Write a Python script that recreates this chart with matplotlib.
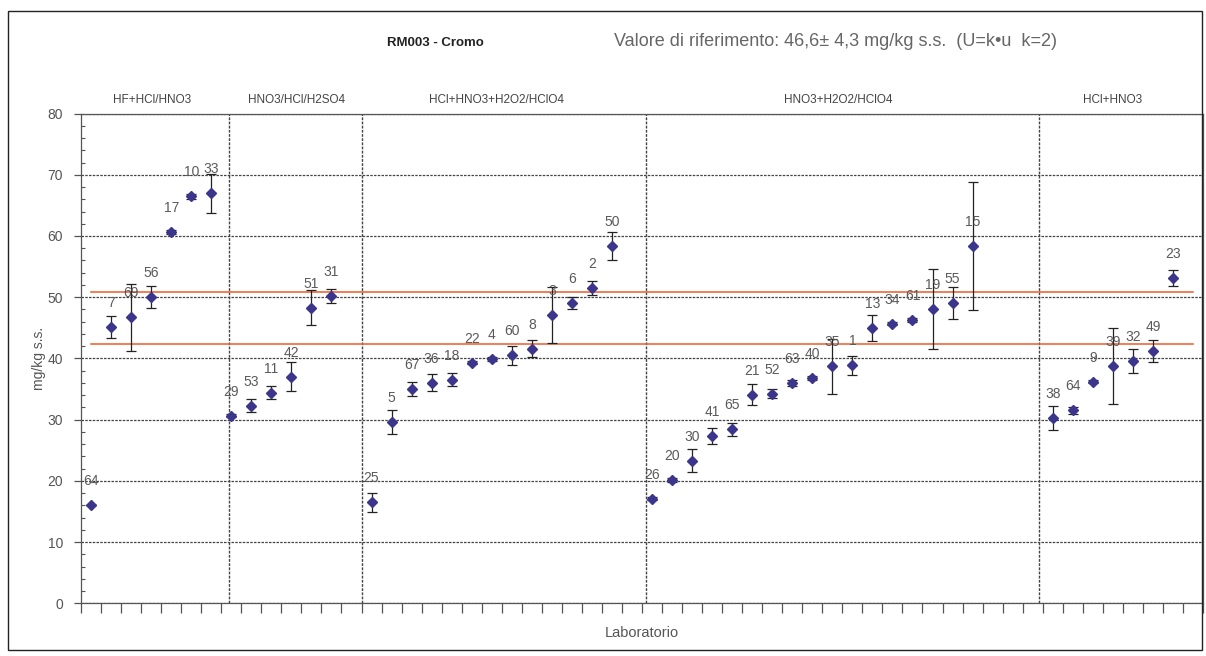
import matplotlib
matplotlib.use("Agg")
import matplotlib.pyplot as plt
from matplotlib.patches import Rectangle
from matplotlib.ticker import MultipleLocator

plt.rcParams['font.family'] = ['Liberation Sans', 'DejaVu Sans']

# laboratori, in ordine sull'asse x (uno per posizione, None = posizione vuota)
lab = ['64', '7', '69', '56', '17', '10', '33',
       '29', '53', '11', '42', '51', '31', None,
       '25', '5', '67', '36', '18', '22', '4', '60', '8', '3', '6', '2', '50', None,
       '26', '20', '30', '41', '65', '21', '52', '63', '40', '35', '1', '13', '34', '61',
       '19', '55', '15', None, None, None,
       '38', '64', '9', '39', '32', '49', '23']

valori = [16.0, 45.1, 46.7, 50.1, 60.65, 66.5, 67.0,
          30.65, 32.3, 34.4, 37.0, 48.3, 50.2, None,
          16.5, 29.6, 35.0, 36.0, 36.55, 39.3, 39.9, 40.5, 41.6, 47.1, 49.1, 51.55, 58.3, None,
          17.1, 20.1, 23.3, 27.4, 28.4, 34.1, 34.25, 36.0, 36.8, 38.7, 38.85, 45.0, 45.7, 46.25,
          48.1, 49.0, 58.4, None, None, None,
          30.3, 31.5, 36.2, 38.7, 39.55, 41.2, 53.2]

incertezze = [0.0, 1.8, 5.5, 1.8, 0.3, 0.4, 3.2,
              0.2, 1.0, 1.1, 2.4, 2.8, 1.2, None,
              1.6, 2.0, 1.2, 1.4, 1.1, 0.2, 0.3, 1.6, 1.4, 4.6, 1.0, 1.15, 2.3, None,
              0.3, 0.3, 1.9, 1.3, 1.0, 1.75, 0.7, 0.5, 0.3, 4.5, 1.5, 2.1, 0.3, 0.3,
              6.5, 2.6, 10.5, None, None, None,
              2.0, 0.5, 0.2, 6.2, 2.0, 1.85, 1.3]

gruppi = ['HF+HCl/HNO3', 'HNO3/HCl/H2SO4', 'HCl+HNO3+H2O2/HClO4',
          'HNO3+H2O2/HClO4', 'HCl+HNO3']
separatori = [6.9, 13.5, 27.7, 47.3]
centri_gruppi = [3.05, 10.25, 20.25, 37.3, 51.0]

valore_rif = 46.6
U = 4.3

fig = plt.figure(figsize=(12.06, 6.56), dpi=100)
ax = fig.add_axes([0.0672, 0.0803, 0.9303, 0.7466])

xs = [i for i, v in enumerate(valori) if v is not None]
ys = [valori[i] for i in xs]
es = [incertezze[i] for i in xs]

ax.errorbar(xs, ys, yerr=es, fmt='D', ms=5.5, color='#3b358c', mec='#3b358c',
            ecolor='#222222', elinewidth=0.9, capsize=3.5, capthick=0.9, zorder=4)

for i in xs:
    ax.annotate(lab[i], (i, valori[i]), xytext=(0, 24), textcoords='offset pixels',
                ha='center', va='center', fontsize=10, color='#5a5a5a', zorder=5)

# limiti del valore di riferimento
ax.plot([0, 55], [valore_rif + U] * 2, color='#ee5a2a', lw=1.1, zorder=3)
ax.plot([0, 55], [valore_rif - U] * 2, color='#ee5a2a', lw=1.1, zorder=3)

for s in separatori:
    ax.axvline(s, color='#444444', lw=1.0, ls=(0, (2, 1)), zorder=2)

ax.set_xlim(-0.5, 55.5)
ax.set_ylim(0, 80)
ax.yaxis.set_major_locator(MultipleLocator(10))
ax.yaxis.set_minor_locator(MultipleLocator(2))
ax.set_xticks([k - 0.5 for k in range(57)])
ax.set_xticklabels([])
ax.tick_params(axis='x', direction='out', length=7, width=0.9, color='#555555')
ax.tick_params(axis='y', which='major', direction='out', length=5, width=0.9,
               color='#555555', labelsize=10, labelcolor='#555555', pad=8)
ax.tick_params(axis='y', which='minor', direction='in', length=3, width=0.8, color='#555555')
ax.grid(axis='y', which='major', color='#444444', lw=0.9, ls=(0, (2, 1)), zorder=1)

for sp in ax.spines.values():
    sp.set_color('#555555')
    sp.set_linewidth(0.9)
    sp.set_linestyle((0, (2, 1)))

ax.set_ylabel('mg/kg s.s.', fontsize=10, color='#555555', labelpad=1)
ax.set_xlabel('Laboratorio', fontsize=10.5, color='#555555', labelpad=6)

for g, c in zip(gruppi, centri_gruppi):
    ax.text(c, 82.2, g, ha='center', va='center', fontsize=8.5, color='#444444')

fig.text(435 / 1206, 1 - 43 / 656, 'RM003 - Cromo', ha='center', va='center',
         fontsize=9.5, fontweight='bold', color='#222222')
fig.text(835 / 1206, 1 - 42 / 656,
         'Valore di riferimento: 46,6± 4,3 mg/kg s.s.  (U=k•u  k=2)',
         ha='center', va='center', fontsize=13, color='#666666')

fig.patches.append(Rectangle((8 / 1206, 6 / 656), 1 - 12 / 1206, 1 - 17 / 656,
                             transform=fig.transFigure, fill=False,
                             edgecolor='#222222', lw=1.0))

fig.savefig('out.png', dpi=100)
